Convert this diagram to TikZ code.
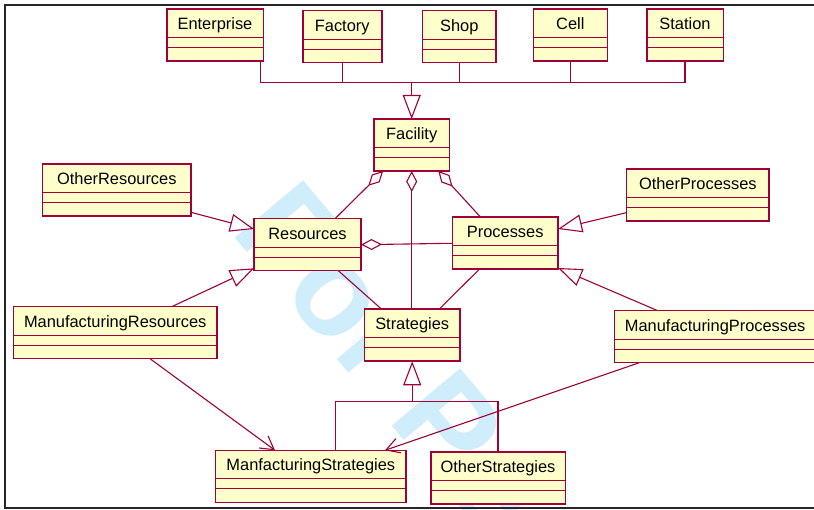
\documentclass[tikz,border=0pt]{standalone}
\usepackage{fontspec}
\setmainfont{Liberation Sans}
\usetikzlibrary{arrows.meta}
\definecolor{umlred}{RGB}{160,0,55}
\definecolor{umlfill}{RGB}{255,255,204}
\definecolor{wmblue}{RGB}{208,237,251}
\newcommand\umlclass[5]{%
  \node[cls, minimum width=#4pt] (#1) at (#2,#3) {};
  \draw[sepline] ([yshift=-28.5pt]#1.north west) -- ([yshift=-28.5pt]#1.north east);
  \draw[sepline] ([yshift=-38.5pt]#1.north west) -- ([yshift=-38.5pt]#1.north east);
  \node[lbl] (#1-t) at ([yshift=-20.5pt]#1.north) {#5};%
}
\begin{document}
\begin{tikzpicture}[x=1pt,y=-1pt,
  cls/.style={rectangle, draw=umlred, fill=umlfill, line width=1.6pt, minimum height=52pt, inner sep=0pt, outer sep=0pt},
  sepline/.style={draw=umlred, line width=0.9pt},
  lbl/.style={anchor=base, inner sep=0pt, font=\fontsize{16.4pt}{19pt}\selectfont, text=black},
  con/.style={draw=umlred, line width=1.1pt},
  gen/.style={con, -{Triangle[length=24pt,width=18pt,fill=white]}},
  agg/.style={con, -{Diamond[length=21pt,width=11pt,fill=white]}},
  dep/.style={con, -{Straight Barb[length=13pt,width=15pt]}},
  wm/.style={anchor=base west, inner sep=0pt, rotate=-50, text=wmblue, font=\fontsize{130pt}{140pt}\selectfont\bfseries}
]
\useasboundingbox (0,0) rectangle (814,510);
\clip (0,0) rectangle (814,510);
\fill[white] (0,0) rectangle (814,510);
% watermark
\node[wm] (wmark) at (229,231) {For Peer Review};
% frame
\draw[line width=1.5pt, black!85] (5,5) rectangle (830,508);
% classes
\umlclass{ent}{215}{35.3}{96.6}{Enterprise}
\umlclass{fab}{342.2}{36.7}{79}{Factory}
\umlclass{shp}{459.3}{36.7}{73.3}{Shop}
\umlclass{cel}{570.3}{35.3}{74}{Cell}
\umlclass{sta}{685}{35.3}{76.6}{Station}
\umlclass{fac}{411.7}{145}{75.3}{Facility}
\umlclass{ores}{116.8}{190.3}{148.3}{OtherResources}
\umlclass{res}{307.5}{244.7}{107}{Resources}
\umlclass{pro}{505.2}{243.3}{105.7}{Processes}
\umlclass{opro}{697.8}{195.3}{142.3}{OtherProcesses}
\umlclass{mres}{115.2}{332.7}{203.7}{ManufacturingResources}
\umlclass{str}{412.2}{335.3}{95.7}{Strategies}
\umlclass{mpro}{715.2}{336.7}{201.8}{ManufacturingProcesses}
\umlclass{mst}{310.8}{476.3}{190.3}{ManfacturingStrategies}
\umlclass{ost}{498}{477.7}{134.6}{OtherStrategies}
% top generalization bus
\coordinate (topbus) at (412,82.3);
\draw[con] ([xshift=45.7pt]ent.south) |- (sta.south |- topbus) -- (sta.south);
\draw[con] (fab.south) -- (fab.south |- topbus);
\draw[con] (shp.south) -- (shp.south |- topbus);
\draw[con] (cel.south) -- (cel.south |- topbus);
\draw[gen] (fac.north |- topbus) -- (fac.north);
% aggregations
\draw[agg] ([xshift=27.5pt]res.north) -- ([xshift=-28.5pt]fac.south);
\draw[agg] (fac.south |- str.north) -- (fac.south);
\draw[agg] ([xshift=-24.5pt]pro.north) -- ([xshift=26.6pt]fac.south);
\draw[agg] (pro.west) -- (res.east);
% associations
\draw[con] ([xshift=30.8pt]res.south) -- ([xshift=-30.5pt]str.north);
\draw[con] ([xshift=-25.9pt]pro.south) -- ([xshift=26.8pt]str.north);
% generalizations
\draw[gen] ([yshift=4pt]ores.south east) -- ([yshift=-10.3pt]res.north west);
\draw[gen] ([xshift=56.5pt]mres.north) -- ([yshift=2.4pt]res.south west);
\draw[gen] ([yshift=8.7pt]opro.south west) -- ([yshift=-11.7pt]pro.north east);
\draw[gen] ([xshift=43.4pt]mpro.north west) -- ([yshift=1.3pt]pro.south east);
% strategies bus
\coordinate (sbus) at (412,401.7);
\draw[con] ([xshift=24.9pt]mst.north) |- (ost.north |- sbus) -- (ost.north);
\draw[gen] (str.south |- sbus) -- (str.south);
% dependencies
\draw[dep] ([xshift=34.8pt]mres.south) -- ([xshift=-35.8pt]mst.north);
\draw[dep] ([xshift=25pt]mpro.south west) -- ([xshift=74.2pt]mst.north);
\end{tikzpicture}
\end{document}
